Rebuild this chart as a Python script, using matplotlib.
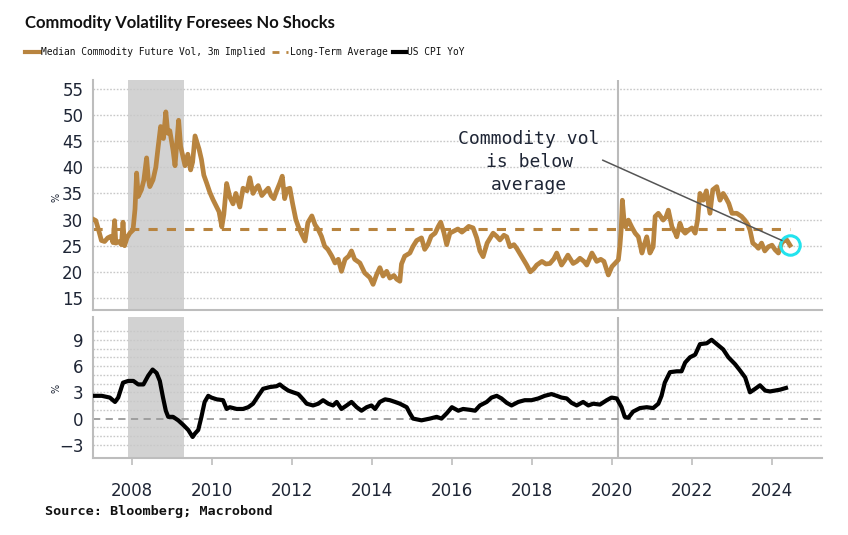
import matplotlib
matplotlib.use("Agg")
import matplotlib.pyplot as plt
from matplotlib.lines import Line2D

# ---------------- data ----------------
vol_years = [2007.05, 2007.10, 2007.17, 2007.24, 2007.32, 2007.40, 2007.48, 2007.53, 2007.57, 2007.60,
             2007.68, 2007.74, 2007.78, 2007.82, 2007.88, 2007.95, 2008.03, 2008.08, 2008.12, 2008.16,
             2008.24, 2008.30, 2008.37, 2008.41, 2008.45, 2008.53, 2008.60, 2008.66, 2008.72, 2008.79,
             2008.85, 2008.90, 2008.95, 2009.03, 2009.08, 2009.13, 2009.17, 2009.22, 2009.28, 2009.33,
             2009.40, 2009.47, 2009.52, 2009.58, 2009.62, 2009.68, 2009.74, 2009.80, 2009.87, 2009.95,
             2010.03, 2010.12, 2010.18, 2010.25, 2010.30, 2010.37, 2010.45, 2010.53, 2010.60, 2010.70,
             2010.78, 2010.88, 2010.95, 2011.03, 2011.10, 2011.16, 2011.25, 2011.35, 2011.41, 2011.48,
             2011.55, 2011.62, 2011.70, 2011.76, 2011.82, 2011.88, 2011.95, 2012.02, 2012.10, 2012.16,
             2012.24, 2012.33, 2012.40, 2012.50, 2012.58, 2012.66, 2012.74, 2012.82, 2012.90, 2013.00,
             2013.08, 2013.16, 2013.24, 2013.33, 2013.42, 2013.49, 2013.57, 2013.70, 2013.82, 2013.95,
             2014.03, 2014.12, 2014.20, 2014.28, 2014.37, 2014.45, 2014.55, 2014.62, 2014.70, 2014.74,
             2014.82, 2014.95, 2015.03, 2015.12, 2015.24, 2015.32, 2015.40, 2015.48, 2015.58, 2015.66,
             2015.72, 2015.80, 2015.87, 2015.95, 2016.05, 2016.15, 2016.25, 2016.33, 2016.42, 2016.53,
             2016.62, 2016.70, 2016.78, 2016.88, 2017.03, 2017.12, 2017.20, 2017.30, 2017.37, 2017.45,
             2017.55, 2017.62, 2017.72, 2017.80, 2017.87, 2017.96, 2018.05, 2018.12, 2018.25, 2018.35,
             2018.45, 2018.55, 2018.62, 2018.74, 2018.82, 2018.90, 2019.03, 2019.12, 2019.20, 2019.30,
             2019.37, 2019.50, 2019.62, 2019.72, 2019.80, 2019.91, 2020.00, 2020.10, 2020.16, 2020.20,
             2020.23, 2020.26, 2020.30, 2020.34, 2020.41, 2020.50, 2020.58, 2020.66, 2020.75, 2020.80,
             2020.87, 2020.95, 2021.03, 2021.08, 2021.16, 2021.28, 2021.35, 2021.41, 2021.50, 2021.58,
             2021.62, 2021.70, 2021.76, 2021.83, 2021.92, 2022.00, 2022.08, 2022.14, 2022.20, 2022.28,
             2022.36, 2022.45, 2022.52, 2022.62, 2022.70, 2022.78, 2022.83, 2022.92, 2023.00, 2023.12,
             2023.24, 2023.32, 2023.40, 2023.45, 2023.52, 2023.60, 2023.66, 2023.74, 2023.82, 2023.91,
             2024.00, 2024.08, 2024.16, 2024.24, 2024.32, 2024.37, 2024.45]
vol_values = [30.0, 29.8, 28.0, 26.0, 25.8, 26.5, 26.8, 25.6, 29.8, 25.5,
              25.8, 25.2, 29.5, 25.0, 26.5, 27.4, 28.0, 32.0, 38.9, 34.4,
              35.7, 37.5, 41.8, 38.0, 36.3, 37.6, 40.0, 44.0, 47.8, 45.5,
              50.6, 46.5, 47.0, 43.3, 40.3, 45.0, 49.0, 44.0, 42.0, 40.3,
              42.5, 39.5, 41.0, 46.0, 45.0, 43.5, 41.5, 38.5, 37.0, 35.2,
              33.8, 32.4, 31.5, 28.6, 31.0, 36.9, 34.3, 33.0, 35.0, 32.4,
              36.0, 35.5, 38.0, 35.0, 36.0, 36.5, 34.6, 35.5, 36.0, 34.6,
              34.0, 35.5, 37.0, 38.3, 34.0, 35.8, 36.0, 33.0, 30.0, 28.7,
              27.3, 25.9, 29.4, 30.7, 29.0, 28.1, 26.8, 24.9, 24.3, 23.0,
              21.7, 22.4, 20.1, 22.4, 23.0, 24.0, 22.4, 21.7, 19.8, 18.9,
              17.6, 19.5, 20.8, 19.2, 20.1, 18.8, 19.3, 18.6, 18.2, 21.5,
              23.0, 23.6, 24.9, 26.0, 26.5, 24.3, 25.2, 26.8, 27.4, 28.7,
              29.5, 27.5, 25.2, 27.4, 27.8, 28.2, 27.6, 28.1, 28.7, 28.4,
              26.5, 24.0, 22.9, 25.5, 27.4, 26.8, 26.1, 27.0, 26.7, 24.8,
              25.2, 24.5, 23.2, 22.2, 21.3, 20.0, 20.6, 21.3, 22.0, 21.5,
              21.6, 22.5, 23.6, 21.3, 22.2, 23.2, 21.6, 22.0, 22.6, 22.0,
              21.3, 23.6, 22.0, 22.4, 22.0, 19.4, 21.0, 21.8, 22.3, 25.0,
              28.0, 33.7, 30.0, 28.6, 29.9, 28.5, 27.4, 26.7, 23.6, 25.0,
              26.7, 23.6, 24.8, 30.6, 31.2, 29.9, 30.5, 31.8, 28.6, 27.5,
              26.7, 29.3, 28.0, 27.4, 28.0, 28.4, 27.4, 29.9, 35.0, 33.7,
              35.5, 31.2, 35.7, 36.3, 33.7, 35.0, 34.4, 33.1, 31.2, 31.2,
              30.6, 29.9, 29.0, 28.0, 25.5, 25.0, 24.5, 25.5, 24.0, 24.8,
              25.1, 24.2, 23.6, 25.5, 26.1, 26.1, 25.1]

long_term_average = 28.2

cpi_years = [2007.05, 2007.25, 2007.45, 2007.58, 2007.66, 2007.78, 2007.91, 2008.04, 2008.16, 2008.29,
             2008.41, 2008.52, 2008.62, 2008.70, 2008.78, 2008.85, 2008.91, 2009.03, 2009.16, 2009.28,
             2009.41, 2009.52, 2009.58, 2009.66, 2009.74, 2009.82, 2009.91, 2009.99, 2010.12, 2010.28,
             2010.37, 2010.45, 2010.62, 2010.78, 2010.91, 2011.03, 2011.16, 2011.28, 2011.45, 2011.62,
             2011.70, 2011.78, 2011.91, 2012.03, 2012.16, 2012.28, 2012.37, 2012.53, 2012.66, 2012.78,
             2012.91, 2013.03, 2013.12, 2013.24, 2013.37, 2013.49, 2013.62, 2013.74, 2013.87, 2013.99,
             2014.08, 2014.20, 2014.33, 2014.45, 2014.58, 2014.70, 2014.87, 2014.95, 2015.03, 2015.24,
             2015.45, 2015.62, 2015.74, 2015.87, 2016.00, 2016.16, 2016.28, 2016.45, 2016.58, 2016.70,
             2016.87, 2016.99, 2017.12, 2017.24, 2017.37, 2017.49, 2017.66, 2017.82, 2017.99, 2018.16,
             2018.32, 2018.49, 2018.62, 2018.74, 2018.87, 2018.99, 2019.12, 2019.28, 2019.41, 2019.53,
             2019.70, 2019.87, 2019.99, 2020.12, 2020.24, 2020.32, 2020.41, 2020.53, 2020.70, 2020.87,
             2021.03, 2021.16, 2021.24, 2021.32, 2021.45, 2021.62, 2021.74, 2021.83, 2021.95, 2022.08,
             2022.20, 2022.37, 2022.49, 2022.62, 2022.78, 2022.91, 2023.08, 2023.20, 2023.33, 2023.45,
             2023.58, 2023.70, 2023.83, 2023.95, 2024.08, 2024.20, 2024.35]
cpi_values = [2.6, 2.6, 2.4, 1.9, 2.4, 4.1, 4.3, 4.3, 3.9, 3.9,
              4.9, 5.6, 5.2, 4.3, 2.4, 0.9, 0.2, 0.2, -0.2, -0.7,
              -1.3, -2.1, -1.7, -1.3, 0.2, 1.9, 2.6, 2.4, 2.2, 2.1,
              1.1, 1.3, 1.1, 1.1, 1.3, 1.7, 2.6, 3.4, 3.6, 3.7,
              3.9, 3.6, 3.2, 3.0, 2.8, 2.2, 1.7, 1.5, 1.7, 2.1,
              1.7, 1.5, 1.9, 1.1, 1.5, 1.9, 1.3, 0.9, 1.3, 1.5,
              1.1, 1.9, 2.2, 2.1, 1.9, 1.7, 1.3, 0.6, 0.0, -0.2,
              0.0, 0.2, 0.0, 0.6, 1.3, 0.9, 1.1, 1.0, 0.9, 1.5,
              1.9, 2.4, 2.6, 2.3, 1.8, 1.5, 1.9, 2.1, 2.1, 2.3,
              2.6, 2.8, 2.6, 2.4, 2.3, 1.8, 1.5, 1.9, 1.5, 1.7,
              1.6, 2.1, 2.4, 2.3, 1.3, 0.2, 0.1, 0.8, 1.2, 1.3,
              1.2, 1.7, 2.6, 4.1, 5.3, 5.4, 5.4, 6.4, 7.0, 7.3,
              8.5, 8.6, 9.0, 8.5, 7.9, 7.0, 6.2, 5.5, 4.7, 3.0,
              3.4, 3.8, 3.2, 3.1, 3.2, 3.3, 3.5]

recession = (2007.9, 2009.3)
covid_marker = 2020.15
x_ticks = [2008, 2010, 2012, 2014, 2016, 2018, 2020, 2022, 2024]
top_ticks = [15, 20, 25, 30, 35, 40, 45, 50, 55]
bottom_ticks = [-3, 0, 3, 6, 9]

title = "Commodity Volatility Foresees No Shocks"
legend_labels = ["Median Commodity Future Vol, 3m Implied", "Long-Term Average", "US CPI YoY"]
annotation = "Commodity vol\nis below\naverage"
source = "Source: Bloomberg; Macrobond"

# ---------------- style ----------------
BROWN = "#B8843F"
GRID = "#C8C8C8"
SPINE = "#BDBDBD"
TICKC = "#1E2535"
SHADE = "#D2D2D2"

W, H = 848, 535
fig = plt.figure(figsize=(W / 100, H / 100), dpi=100)
fig.patch.set_facecolor("white")

def fx(px):
    return px / W

def fy(py):
    return 1 - py / H

ax1 = fig.add_axes([fx(93), fy(310), fx(822) - fx(93), fy(80) - fy(310)])
ax2 = fig.add_axes([fx(93), fy(458), fx(822) - fx(93), fy(317) - fy(458)], sharex=ax1)

xlim = (2007.03, 2025.25)

for ax in (ax1, ax2):
    ax.set_xlim(*xlim)
    for s in ("top", "right"):
        ax.spines[s].set_visible(False)
    for s in ("left", "bottom"):
        ax.spines[s].set_color(SPINE)
        ax.spines[s].set_linewidth(1.5)
    ax.axvspan(recession[0], recession[1], color=SHADE, lw=0, zorder=0)
    ax.axvline(covid_marker, color="#BBBBBB", lw=1.5, zorder=1)
    ax.tick_params(axis="y", length=0, pad=7, labelsize=12, labelcolor=TICKC)

# top panel
ax1.set_ylim(12.7, 56.7)
ax1.set_yticks(top_ticks)
for v in top_ticks:
    ax1.axhline(v, color=GRID, lw=1.0, dashes=(1.2, 1.2), zorder=0.5)
ax1.plot([xlim[0], vol_years[-1]], [long_term_average, long_term_average], color=BROWN,
         lw=2.2, dashes=(3, 3), zorder=2)
ax1.plot(vol_years, vol_values, color=BROWN, lw=3.4, zorder=3, solid_joinstyle="round")
ax1.plot([vol_years[-1]], [vol_values[-1]], marker="o", ms=14, mfc="none", mec="#22E3EE",
         mew=2.2, zorder=5)
ax1.tick_params(axis="x", length=0, labelbottom=False)
ax1.annotate(annotation, xy=(2024.25, 26.0), xytext=(2017.93, 41.0),
             ha="center", va="center", fontsize=13, family="DejaVu Sans Mono",
             color="#1E2535", linespacing=1.35,
             arrowprops=dict(arrowstyle="-", color="#555555", lw=1.1,
                             shrinkA=0, shrinkB=0,
                             relpos=(1.0, 0.55)), zorder=6)

# bottom panel
ax2.set_ylim(-4.5, 11.6)
ax2.set_yticks(bottom_ticks)
for v in range(-3, 11):
    if v == 0:
        continue
    ax2.axhline(v, color=GRID, lw=1.0, dashes=(1.2, 1.2), zorder=0.5)
ax2.axhline(0, color="#9A9A9A", lw=1.3, dashes=(4, 3), zorder=1)
ax2.plot(cpi_years, cpi_values, color="black", lw=3.0, zorder=3, solid_joinstyle="round")
ax2.set_xticks(x_ticks)
ax2.set_xticklabels([str(x) for x in x_ticks])
ax2.tick_params(axis="x", length=5, width=1.2, color=SPINE, pad=12, labelsize=12,
                labelcolor=TICKC)

# % unit labels
fig.text(fx(57), fy(197), "%", rotation=90, fontsize=7, color=TICKC, ha="center", va="center")
fig.text(fx(57), fy(388), "%", rotation=90, fontsize=7, color=TICKC, ha="center", va="center")

# title
fig.text(fx(25), fy(23), title, fontsize=12.0, fontweight="bold", family="Lato",
         color="#111111", ha="left", va="center")

# legend
ly = fy(52)
LEG_FS = 6.9
fig.add_artist(Line2D([fx(25), fx(40)], [ly, ly], color=BROWN, lw=3, transform=fig.transFigure))
fig.text(fx(41), ly, legend_labels[0], fontsize=LEG_FS, family="DejaVu Sans Mono", color="#111111",
         ha="left", va="center")
fig.add_artist(Line2D([fx(272), fx(288)], [ly, ly], color=BROWN, lw=2, dashes=(2.5, 2.5),
                      transform=fig.transFigure))
fig.text(fx(290), ly, legend_labels[1], fontsize=LEG_FS, family="DejaVu Sans Mono", color="#111111",
         ha="left", va="center")
fig.add_artist(Line2D([fx(393), fx(406)], [ly, ly], color="black", lw=3, transform=fig.transFigure))
fig.text(fx(407), ly, legend_labels[2], fontsize=LEG_FS, family="DejaVu Sans Mono", color="#111111",
         ha="left", va="center")

# source
fig.text(fx(45), fy(511), source, fontsize=9.7, fontweight="bold", family="DejaVu Sans Mono",
         color="#111111", ha="left", va="center")

fig.savefig("out.png", dpi=100, facecolor="white")
